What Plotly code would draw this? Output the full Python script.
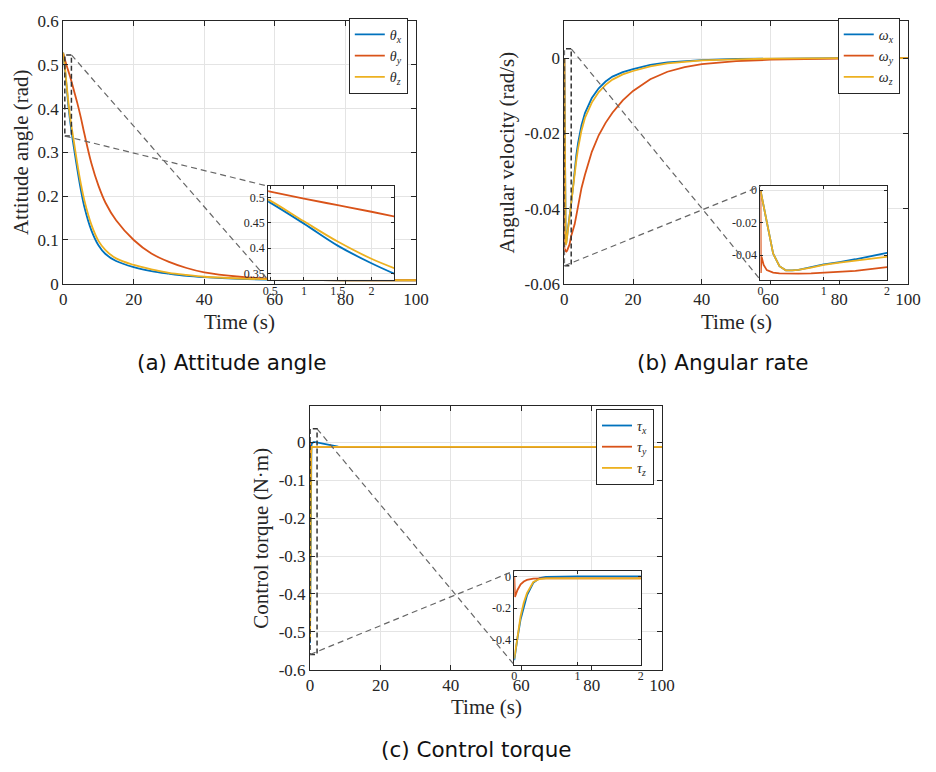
import plotly.graph_objects as go

W, H = 936, 772

# ---------------- data ----------------
# (a) attitude angle
t_att = [0, 0.5, 1, 1.5, 2, 2.5, 3, 4, 5, 6, 8, 10, 12, 15, 20, 25, 30, 35, 40, 50, 60, 70, 80, 100]
theta_x = [0.528, 0.490, 0.4485, 0.405, 0.370, 0.340, 0.313, 0.262, 0.215, 0.176, 0.122, 0.088, 0.068, 0.052,
           0.038, 0.029, 0.023, 0.018, 0.015, 0.011, 0.009, 0.0085, 0.008, 0.008]
theta_y = [0.526, 0.512, 0.498, 0.485, 0.472, 0.458, 0.443, 0.413, 0.380, 0.343, 0.275, 0.224, 0.185, 0.145,
           0.100, 0.069, 0.050, 0.036, 0.026, 0.016, 0.011, 0.009, 0.008, 0.008]
theta_z = [0.528, 0.494, 0.453, 0.413, 0.379, 0.352, 0.327, 0.275, 0.229, 0.191, 0.135, 0.098, 0.077, 0.058,
           0.043, 0.033, 0.025, 0.020, 0.016, 0.012, 0.010, 0.009, 0.008, 0.008]

# (b) angular rate
t_rate = [0, 0.005, 0.015, 0.02, 0.05, 0.1, 0.15, 0.2, 0.3, 0.4, 0.5, 0.6, 0.8, 1, 1.25, 1.5, 2, 2.5, 3, 3.5,
          4, 5, 6, 7, 8, 10, 12, 14, 17, 20, 25, 30, 35, 40, 50, 60, 80, 100]
omega_x = [0, -0.001, -0.0034, -0.0045, -0.011, -0.021, -0.031, -0.039, -0.0468, -0.0493, -0.0494, -0.049,
           -0.0474, -0.0457, -0.0442, -0.0425, -0.0386, -0.0345, -0.0298, -0.0257, -0.0225, -0.0178, -0.0146,
           -0.0124, -0.0106, -0.0080, -0.0062, -0.0049, -0.0037, -0.0029, -0.0018, -0.0011, -0.0007, -0.0005,
           -0.0002, -0.0001, 0, 0]
omega_y = [0, -0.051, -0.041, -0.0415, -0.046, -0.0492, -0.0502, -0.0507, -0.0512, -0.0514, -0.0514, -0.0514,
           -0.0512, -0.0508, -0.0503, -0.0496, -0.0473, -0.0460, -0.0442, -0.0418, -0.0392, -0.0345, -0.0310,
           -0.0277, -0.0249, -0.0205, -0.0172, -0.0145, -0.0112, -0.0087, -0.0056, -0.0036, -0.0024, -0.0016,
           -0.0008, -0.0004, -0.0001, 0]
omega_z = [0, -0.001, -0.0034, -0.0045, -0.011, -0.021, -0.031, -0.039, -0.0468, -0.0493, -0.0494, -0.0491,
           -0.0476, -0.046, -0.0446, -0.043, -0.0394, -0.0356, -0.0312, -0.0272, -0.0240, -0.0192, -0.0159,
           -0.0136, -0.0118, -0.0090, -0.0071, -0.0057, -0.0043, -0.0034, -0.0022, -0.0014, -0.0009, -0.0006,
           -0.0003, -0.0001, 0, 0]

# (c) control torque
t_tor = [0, 0.01, 0.05, 0.1, 0.15, 0.2, 0.3, 0.4, 0.5, 0.75, 1, 1.5, 2, 3, 4, 5, 6, 8, 10, 20, 50, 100]
tau_x = [-0.530, -0.50, -0.39, -0.27, -0.19, -0.12, -0.040, -0.010, -0.003, 0.0, 0.001, 0.001, 0.0, -0.002,
         -0.004, -0.007, -0.009, -0.011, -0.012, -0.012, -0.012, -0.012]
tau_y = [0.0, -0.13, -0.085, -0.05, -0.032, -0.022, -0.014, -0.012, -0.012, -0.012, -0.012, -0.012, -0.012,
         -0.012, -0.012, -0.012, -0.012, -0.012, -0.012, -0.012, -0.012, -0.012]
tau_z = [-0.52, -0.49, -0.37, -0.25, -0.165, -0.105, -0.035, -0.016, -0.012, -0.012, -0.012, -0.012, -0.012,
         -0.012, -0.012, -0.012, -0.012, -0.012, -0.012, -0.012, -0.012, -0.012]

names_att = ['<i>θ</i><sub><i>x</i></sub>', '<i>θ</i><sub><i>y</i></sub>', '<i>θ</i><sub><i>z</i></sub>']
names_rate = ['<i>ω</i><sub><i>x</i></sub>', '<i>ω</i><sub><i>y</i></sub>', '<i>ω</i><sub><i>z</i></sub>']
names_tor = ['<i>τ</i><sub><i>x</i></sub>', '<i>τ</i><sub><i>y</i></sub>', '<i>τ</i><sub><i>z</i></sub>']

ticks_time = [0, 20, 40, 60, 80, 100]
ticks_att = [0, 0.1, 0.2, 0.3, 0.4, 0.5, 0.6]
ticklab_att = ['0', '0.1', '0.2', '0.3', '0.4', '0.5', '0.6']
ticks_rate = [-0.06, -0.04, -0.02, 0]
ticklab_rate = ['-0.06', '-0.04', '-0.02', '0']
ticks_tor = [-0.6, -0.5, -0.4, -0.3, -0.2, -0.1, 0]
ticklab_tor = ['-0.6', '-0.5', '-0.4', '-0.3', '-0.2', '-0.1', '0']

ins_ticks_att_x = [0.5, 1, 1.5, 2]
ins_ticks_att_y = [0.35, 0.4, 0.45, 0.5]
ins_ticks_rate_x = [0, 1, 2]
ins_ticks_rate_y = [-0.04, -0.02, 0]
ins_ticks_tor_x = [0, 1, 2]
ins_ticks_tor_y = [-0.4, -0.2, 0]

# ---------------- layout geometry (pixels: left, right, top, bottom) ----------------
BOX = {
    'a': (59.3, 419.0, 12.3, 281.7),
    'b': (570.3, 920.7, 12.3, 281.7),
    'c': (311.0, 670.0, 406.7, 677.3),
    'ia': (268.3, 397.0, 181.7, 277.7),
    'ib': (770.3, 899.3, 181.7, 277.7),
    'ic': (519.3, 648.3, 576.0, 672.5),
}
RANGES = {
    'a': ([0, 100], [0, 0.6]),
    'b': ([0, 100], [-0.06, 0.0099]),
    'c': ([0, 100], [-0.6, 0.097]),
    'ia': ([0.47, 2.34], [0.3372, 0.5225]),
    'ib': ([0, 2], [-0.0552, 0.0025]),
    'ic': ([0, 2], [-0.56, 0.036]),
}


def xdom(k):
    l, r, t, b = BOX[k]
    return [l / W, r / W]


def ydom(k):
    l, r, t, b = BOX[k]
    return [1 - b / H, 1 - t / H]


def to_paper(k, x, y):
    xd, yd = xdom(k), ydom(k)
    xr, yr = RANGES[k]
    px = xd[0] + (x - xr[0]) / (xr[1] - xr[0]) * (xd[1] - xd[0])
    py = yd[0] + (y - yr[0]) / (yr[1] - yr[0]) * (yd[1] - yd[0])
    return px, py


BLUE, RED, YEL = '#0072BD', '#D95319', '#EDB120'
COLORS = [BLUE, RED, YEL]
SERIF = 'Liberation Serif'
AXC = '#262626'

fig = go.Figure()

panels = [
    ('a', 'ia', 'x', 'y', 'x4', 'y4', 'legend', t_att, [theta_x, theta_y, theta_z], names_att, 'spline'),
    ('b', 'ib', 'x2', 'y2', 'x5', 'y5', 'legend2', t_rate, [omega_x, omega_y, omega_z], names_rate, 'linear'),
    ('c', 'ic', 'x3', 'y3', 'x6', 'y6', 'legend3', t_tor, [tau_x, tau_y, tau_z], names_tor, 'linear'),
]

for key, ikey, xa, ya, ixa, iya, leg, tt, series, names, shape in panels:
    for s, nm, col in zip(series, names, COLORS):
        fig.add_trace(go.Scatter(x=tt, y=s, mode='lines', name=nm, legend=leg,
                                 line=dict(color=col, width=1.8, shape=shape),
                                 xaxis=xa, yaxis=ya, hoverinfo='skip'))
    for s, nm, col in zip(series, names, COLORS):
        fig.add_trace(go.Scatter(x=tt, y=s, mode='lines', name=nm, showlegend=False,
                                 line=dict(color=col, width=1.8, shape=shape),
                                 xaxis=ixa, yaxis=iya, hoverinfo='skip', cliponaxis=True))


def axis(k, tickvals, ticktext=None, anchor=None, size=17, tl=5):
    d = dict(domain=xdom(k) if anchor and anchor.startswith('y') else ydom(k),
             showline=True, linecolor=AXC, linewidth=1, mirror='ticks',
             ticks='inside', ticklen=tl, tickcolor=AXC, tickwidth=1,
             showgrid=True, gridcolor='#e4e4e4', gridwidth=1, zeroline=False,
             tickvals=tickvals, fixedrange=True,
             tickfont=dict(family=SERIF, size=size, color=AXC), anchor=anchor)
    if ticktext is not None:
        d['ticktext'] = ticktext
    return d


lay = {}
# main axes
lay['xaxis'] = axis('a', ticks_time, anchor='y'); lay['xaxis']['range'] = RANGES['a'][0]
lay['yaxis'] = axis('a', ticks_att, ticklab_att, anchor='x'); lay['yaxis']['range'] = RANGES['a'][1]
lay['xaxis2'] = axis('b', ticks_time, anchor='y2'); lay['xaxis2']['range'] = RANGES['b'][0]
lay['yaxis2'] = axis('b', ticks_rate, ticklab_rate, anchor='x2'); lay['yaxis2']['range'] = RANGES['b'][1]
lay['xaxis3'] = axis('c', ticks_time, anchor='y3'); lay['xaxis3']['range'] = RANGES['c'][0]
lay['yaxis3'] = axis('c', ticks_tor, ticklab_tor, anchor='x3'); lay['yaxis3']['range'] = RANGES['c'][1]
# insets
lay['xaxis4'] = axis('ia', ins_ticks_att_x, ['0.5', '1', '1.5', '2'], anchor='y4', size=12, tl=3)
lay['yaxis4'] = axis('ia', ins_ticks_att_y, ['0.35', '0.4', '0.45', '0.5'], anchor='x4', size=12, tl=3)
lay['xaxis5'] = axis('ib', ins_ticks_rate_x, ['0', '1', '2'], anchor='y5', size=12, tl=3)
lay['yaxis5'] = axis('ib', ins_ticks_rate_y, ['-0.04', '-0.02', '0'], anchor='x5', size=12, tl=3)
lay['xaxis6'] = axis('ic', ins_ticks_tor_x, ['0', '1', '2'], anchor='y6', size=12, tl=3)
lay['yaxis6'] = axis('ic', ins_ticks_tor_y, ['-0.4', '-0.2', '0'], anchor='x6', size=12, tl=3)
for i, k in zip([4, 5, 6], ['ia', 'ib', 'ic']):
    lay['xaxis%d' % i]['range'] = RANGES[k][0]
    lay['yaxis%d' % i]['range'] = RANGES[k][1]

shapes = []
for key, ikey, xa, ya, ixa, iya in [('a', 'ia', 'x', 'y', 'x4', 'y4'), ('b', 'ib', 'x2', 'y2', 'x5', 'y5'),
                                    ('c', 'ic', 'x3', 'y3', 'x6', 'y6')]:
    xr, yr = RANGES[ikey]
    # white background under the inset
    shapes.append(dict(type='rect', xref=ixa, yref=iya, x0=xr[0], x1=xr[1], y0=yr[0], y1=yr[1],
                       fillcolor='white', line=dict(width=0), layer='below'))
    # zoom box on main axes
    shapes.append(dict(type='rect', xref=xa, yref=ya, x0=xr[0], x1=xr[1], y0=yr[0], y1=yr[1],
                       line=dict(color='#333333', width=1.5, dash='5px,3px'), layer='above'))
    # connectors (paper coordinates)
    bx1, by1 = to_paper(key, xr[1], yr[1])  # box top-right
    bx0, by0 = to_paper(key, xr[0], yr[0])  # box bottom-left
    ixd, iyd = xdom(ikey), ydom(ikey)
    shapes.append(dict(type='line', xref='paper', yref='paper', x0=bx1, y0=by1, x1=ixd[0], y1=iyd[0],
                       line=dict(color='#666666', width=1.2, dash='6px,4px'), layer='above'))
    shapes.append(dict(type='line', xref='paper', yref='paper', x0=bx0, y0=by0, x1=ixd[0], y1=iyd[1],
                       line=dict(color='#666666', width=1.2, dash='6px,4px'), layer='above'))

ann = []
title_font = dict(family=SERIF, size=21, color=AXC)
cap_font = dict(family='DejaVu Sans', size=21.5, color='#111111')


def add_text(text, xpx, ypx, font, angle=0):
    ann.append(dict(text=text, x=xpx / W, y=1 - ypx / H, xref='paper', yref='paper', showarrow=False,
                    xanchor='center', yanchor='middle', font=font, textangle=angle))


add_text('Time (s)', 239.2, 321, title_font)
add_text('Time (s)', 745.5, 321, title_font)
add_text('Time (s)', 490.5, 716, title_font)
add_text('Attitude angle (rad)', 17, 147, title_font, -90)
add_text('Angular velocity (rad/s)', 512, 147, title_font, -90)
add_text('Control torque (N·m)', 261, 542, title_font, -90)
add_text('(a) Attitude angle', 231, 362, cap_font)
add_text('(b) Angular rate', 732, 362, cap_font)
add_text('(c) Control torque', 481, 759, cap_font)

leg_common = dict(xanchor='right', yanchor='top', bgcolor='white', bordercolor=AXC, borderwidth=1,
                  font=dict(family=SERIF, size=14, color=AXC), itemwidth=30, tracegroupgap=0)
lay['legend'] = dict(x=410.7 / W, y=1 - 9 / H, **leg_common)
lay['legend2'] = dict(x=912.3 / W, y=1 - 9 / H, **leg_common)
lay['legend3'] = dict(x=661.7 / W, y=1 - 410 / H, **leg_common)

fig.update_layout(width=W, height=H, autosize=False, margin=dict(l=0, r=0, t=0, b=0, pad=0),
                  paper_bgcolor='white', plot_bgcolor='#ffffff', shapes=shapes, annotations=ann,
                  showlegend=True, **lay)

fig.write_html('out.html')
